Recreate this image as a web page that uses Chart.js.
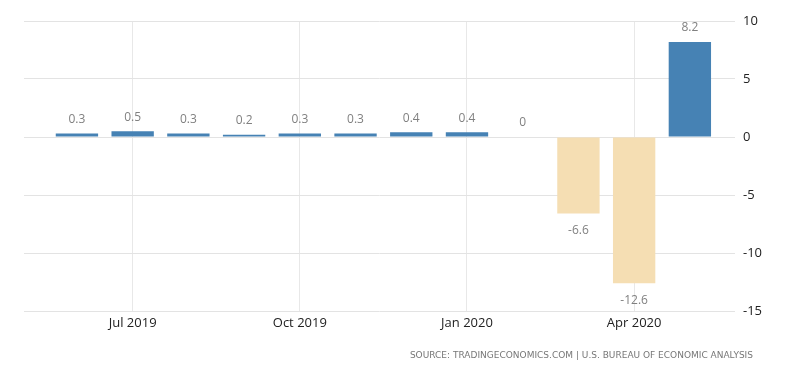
<!DOCTYPE html>
<html><head><meta charset="utf-8">
<script src="https://cdn.jsdelivr.net/npm/chart.js@4/dist/chart.umd.min.js"></script>
<style>
html,body{margin:0;padding:0;background:#fff;}
#wrap{position:relative;width:800px;height:373px;}
#src{position:absolute;right:47px;top:350px;font:9px "DejaVu Sans",sans-serif;color:#777;letter-spacing:0px;white-space:nowrap;}
</style></head>
<body><div id="wrap"><canvas id="c" width="800" height="373"></canvas>
<div id="src">SOURCE: TRADINGECONOMICS.COM | U.S. BUREAU OF ECONOMIC ANALYSIS</div></div>
<script>
const months = ["Jun 2019","Jul 2019","Aug 2019","Sep 2019","Oct 2019","Nov 2019","Dec 2019","Jan 2020","Feb 2020","Mar 2020","Apr 2020","May 2020"];
const values = [0.3,0.5,0.3,0.2,0.3,0.3,0.4,0.4,0,-6.6,-12.6,8.2];
const xTickLabels = ["Jul 2019","Oct 2019","Jan 2020","Apr 2020"];
const yTicks = [10,5,0,-5,-10,-15];

const pts = values.map((v,i)=>({x:i,y:v}));
const tickIdx = xTickLabels.map(l=>months.indexOf(l));

const labelPlugin = {
  id:'vlabels',
  afterDatasetsDraw(chart){
    const ctx = chart.ctx;
    const meta = chart.getDatasetMeta(0);
    ctx.save();
    ctx.font = '12px "Open Sans", sans-serif';
    ctx.fillStyle = '#808080';
    ctx.textAlign = 'center';
    ctx.textBaseline = 'middle';
    meta.data.forEach((bar,i)=>{
      const v = values[i];
      const y0 = chart.scales.y.getPixelForValue(0);
      let y;
      if (v < 0) y = bar.y + 17;
      else y = Math.min(bar.y, y0) - 14;
      ctx.fillText(String(v), bar.x, y);
    });
    ctx.restore();
  }
};

new Chart(document.getElementById('c'), {
  type:'bar',
  data:{datasets:[{
    data:pts,
    backgroundColor: values.map(v=>v<0?'#F5DEB3':'#4682B4'),
    borderWidth:0,
    barPercentage:0.76,
    categoryPercentage:1.0
  }]},
  options:{
    responsive:false,
    animation:false,
    layout:{padding:{left:24,top:21,right:0,bottom:0}},
    plugins:{legend:{display:false},tooltip:{enabled:false}},
    scales:{
      x:{
        type:'linear',
        offset:false,
        min:-0.95, max:11.81,
        afterFit(s){ s.height = 62; },
        afterBuildTicks(s){ s.ticks = tickIdx.map(v=>({value:v})); },
        ticks:{
          autoSkip:false, maxRotation:0, padding:4,
          color:'#222',
          font:{family:'"Open Sans", sans-serif', size:13},
          callback:(v)=> months[v]
        },
        grid:{color:'#e8e8e8', drawTicks:false, offset:false},
        border:{display:false}
      },
      y:{
        position:'right',
        min:-15, max:10,
        afterFit(s){ s.width = 65; },
        afterBuildTicks(s){ s.ticks = yTicks.map(v=>({value:v})); },
        ticks:{
          padding:8, color:'#222',
          font:{family:'"Open Sans", sans-serif', size:13}
        },
        grid:{color:'#e3e3e3', drawTicks:false},
        border:{display:false}
      }
    }
  },
  plugins:[labelPlugin]
});
</script></body></html>
